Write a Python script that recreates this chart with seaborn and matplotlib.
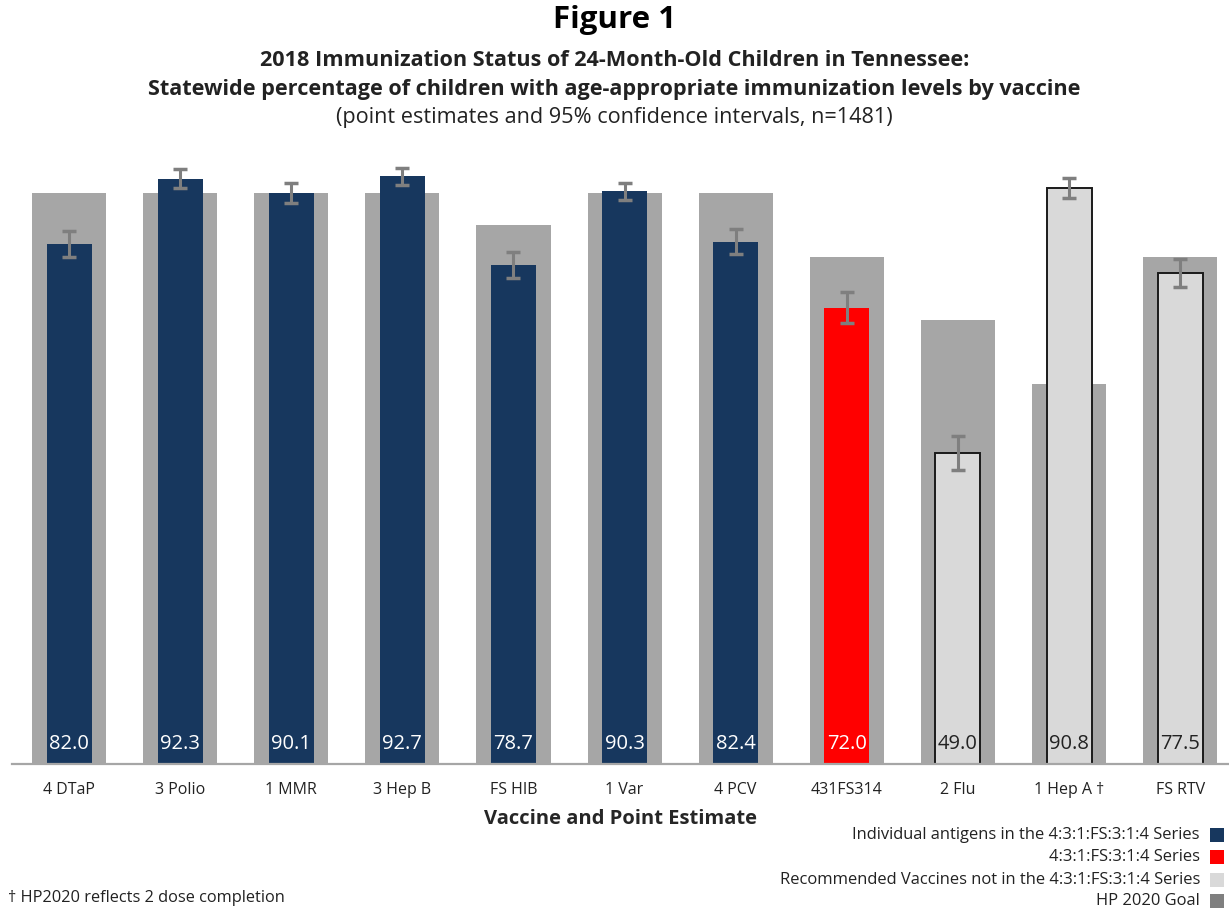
import matplotlib
matplotlib.use("Agg")
import matplotlib.pyplot as plt
import seaborn as sns
import pandas as pd
import numpy as np
from matplotlib.patches import Rectangle

vaccines = ["4 DTaP", "3 Polio", "1 MMR", "3 Hep B", "FS HIB", "1 Var", "4 PCV",
            "431FS314", "2 Flu", "1 Hep A \u2020", "FS RTV"]
estimates = [82.0, 92.3, 90.1, 92.7, 78.7, 90.3, 82.4, 72.0, 49.0, 90.8, 77.5]
ci_half = [2.1, 1.5, 1.6, 1.3, 2.1, 1.4, 2.0, 2.5, 2.7, 1.6, 2.2]
goals = [90, 90, 90, 90, 85, 90, 90, 80, 70, 60, 80]
groups = ["Individual antigens in the 4:3:1:FS:3:1:4 Series"] * 7 + \
         ["4:3:1:FS:3:1:4 Series"] + \
         ["Recommended Vaccines not in the 4:3:1:FS:3:1:4 Series"] * 3
group_colors = {
    "Individual antigens in the 4:3:1:FS:3:1:4 Series": "#17375E",
    "4:3:1:FS:3:1:4 Series": "#FF0000",
    "Recommended Vaccines not in the 4:3:1:FS:3:1:4 Series": "#D9D9D9",
}
goal_label = "HP 2020 Goal"
goal_color = "#A6A6A6"

df = pd.DataFrame({"vaccine": vaccines, "estimate": estimates, "ci": ci_half,
                   "goal": goals, "group": groups})

sns.set_theme(style="white")
plt.rcParams["font.family"] = ["Open Sans", "DejaVu Sans"]

fig = plt.figure(figsize=(12.29, 9.09), dpi=100)
ax = fig.add_axes([12 / 1229, (909 - 764) / 909, (1229 - 12) / 1229, 634 / 909])

sns.barplot(data=df, x="vaccine", y="goal", color=goal_color, width=0.667,
            saturation=1, ax=ax, order=vaccines)
sns.barplot(data=df, x="vaccine", y="estimate", hue="group", palette=group_colors,
            dodge=False, width=0.405, saturation=1, ax=ax, order=vaccines, legend=False)

light = group_colors["Recommended Vaccines not in the 4:3:1:FS:3:1:4 Series"]
n = len(vaccines)
for p in ax.patches[n:]:
    fc = matplotlib.colors.to_hex(p.get_facecolor())
    if fc.lower() == light.lower():
        p.set_edgecolor("#1a1a1a")
        p.set_linewidth(1.4)
    else:
        p.set_linewidth(0)
for p in ax.patches[:n]:
    p.set_linewidth(0)

xpos = np.arange(n)
ax.errorbar(xpos, df["estimate"], yerr=df["ci"], fmt="none", ecolor="#7F7F7F",
            elinewidth=2.2, capsize=5, capthick=2.5, zorder=5)

for i, (v, g) in enumerate(zip(estimates, groups)):
    tc = "#222222" if group_colors[g] == light else "white"
    ax.text(i, 3.2, f"{v:.1f}", ha="center", va="center", fontsize=14.5, color=tc, zorder=6)

ax.set_xlim(-0.513, 10.44)
ax.set_ylim(0, 100)
ax.set_yticks([])
ax.set_ylabel("")
ax.set_xlabel("Vaccine and Point Estimate", fontsize=14.5, fontweight="bold", labelpad=8)
for s in ["top", "right", "left"]:
    ax.spines[s].set_visible(False)
ax.spines["bottom"].set_color("#A6A6A6")
ax.spines["bottom"].set_linewidth(1.6)
ax.tick_params(axis="x", length=0, labelsize=11.5, pad=13, colors="#222222")

fig.text(0.5, 1 - 20 / 909, "Figure 1", ha="center", va="center", fontsize=22.5,
         fontweight="bold", color="black")
fig.text(0.5, 1 - 60 / 909, "2018 Immunization Status of 24-Month-Old Children in Tennessee:",
         ha="center", va="center", fontsize=15.6, fontweight="bold", color="#222222")
fig.text(0.5, 1 - 89 / 909,
         "Statewide percentage of children with age-appropriate immunization levels by vaccine",
         ha="center", va="center", fontsize=15.6, fontweight="bold", color="#222222")
fig.text(0.5, 1 - 117 / 909, "(point estimates and 95% confidence intervals, n=1481)",
         ha="center", va="center", fontsize=15.6, color="#222222")

legend_items = list(group_colors.items()) + [(goal_label, "#7F7F7F")]
ys = [835, 857, 880, 901]
for (lab, col), yy in zip(legend_items, ys):
    fig.text(1200 / 1229, 1 - yy / 909, lab, ha="right", va="center", fontsize=11.9,
             color="#222222")
    fig.patches.append(Rectangle((1210 / 1229, 1 - (yy + 7) / 909), 14 / 1229, 14 / 909,
                                 transform=fig.transFigure, facecolor=col,
                                 edgecolor="none"))

fig.text(8 / 1229, 1 - 898 / 909, "\u2020 HP2020 reflects 2 dose completion",
         ha="left", va="center", fontsize=11.8, color="#222222")

fig.savefig("out.png", dpi=100)
